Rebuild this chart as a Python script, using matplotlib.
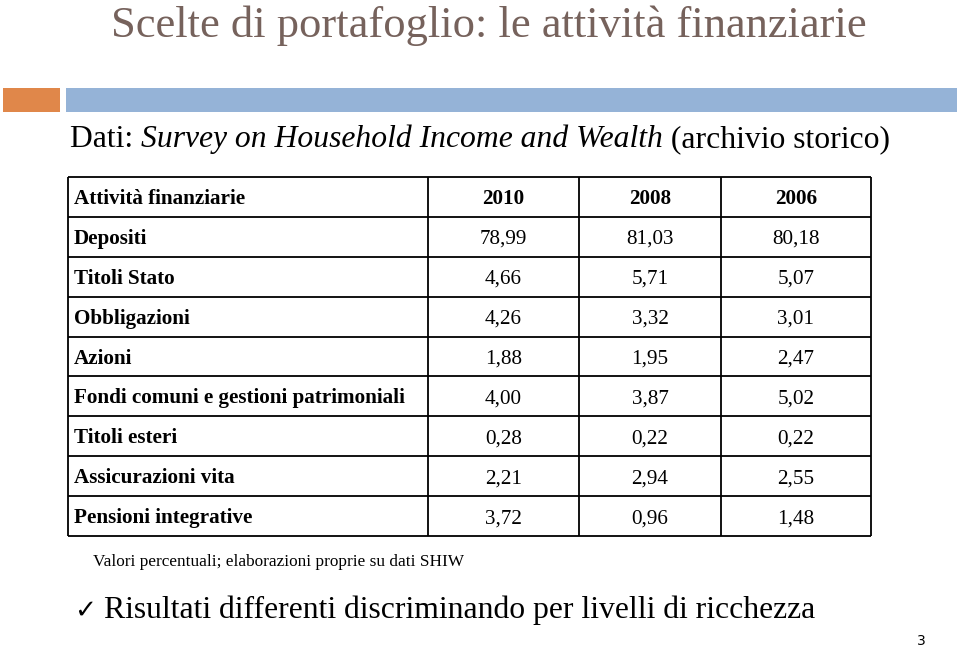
import matplotlib
matplotlib.use("Agg")
import matplotlib.pyplot as plt
from matplotlib.patches import Rectangle

title = "Scelte di portafoglio: le attività finanziarie"
header = ["Attività finanziarie", "2010", "2008", "2006"]
categories = ["Depositi", "Titoli Stato", "Obbligazioni", "Azioni",
              "Fondi comuni e gestioni patrimoniali", "Titoli esteri",
              "Assicurazioni vita", "Pensioni integrative"]
v2010 = ["78,99", "4,66", "4,26", "1,88", "4,00", "0,28", "2,21", "3,72"]
v2008 = ["81,03", "5,71", "3,32", "1,95", "3,87", "0,22", "2,94", "0,96"]
v2006 = ["80,18", "5,07", "3,01", "2,47", "5,02", "0,22", "2,55", "1,48"]
footnote = "Valori percentuali; elaborazioni proprie su dati SHIW"
bullet = "Risultati differenti discriminando per livelli di ricchezza"

plt.rcParams['font.family'] = ['Liberation Serif', 'DejaVu Sans']

fig = plt.figure(figsize=(9.6, 6.48), dpi=100)
ax = fig.add_axes([0, 0, 1, 1])
ax.set_xlim(0, 960)
ax.set_ylim(648, 0)
ax.axis('off')

# title
ax.text(489, 37, title, ha='center', va='baseline', fontsize=32, color='#76625C')
# decorative bars
ax.add_patch(Rectangle((3, 88), 57, 24, color='#E0874A', lw=0))
ax.add_patch(Rectangle((66, 88), 891, 24, color='#95B3D7', lw=0))

# subtitle
fs_sub = 22.8
t1 = ax.text(70, 147, "Dati: ", ha='left', va='baseline', fontsize=fs_sub, color='black')
fig.canvas.draw()
r = fig.canvas.get_renderer()
def right_of(t):
    bb = t.get_window_extent(renderer=r)
    inv = ax.transData.inverted()
    return inv.transform((bb.x1, bb.y0))[0]
x1 = right_of(t1)
t2 = ax.text(x1, 147, "Survey on Household Income and Wealth", ha='left', va='baseline',
             fontsize=fs_sub, style='italic', color='black')
fig.canvas.draw()
x2 = right_of(t2)
ax.text(x2, 147, " (archivio storico)", ha='left', va='baseline', fontsize=fs_sub, color='black')

# table
col_x = [68, 428, 579, 721, 871]
top, bottom = 177, 536
nrows = len(categories) + 1
rh = (bottom - top) / nrows
row_y = [top + i * rh for i in range(nrows + 1)]
ax.hlines(row_y, col_x[0], col_x[-1], color='black', lw=1.3)
ax.vlines(col_x, top, bottom, color='black', lw=1.3)

fs_tab = 15.2
def by(i):
    return top + (i + 0.5) * rh + 7

ax.text(74, by(0), header[0], ha='left', va='baseline', fontsize=fs_tab, weight='bold')
for j in range(1, 4):
    ax.text((col_x[j] + col_x[j + 1]) / 2, by(0), header[j], ha='center', va='baseline',
            fontsize=fs_tab, weight='bold')
for i, name in enumerate(categories):
    ax.text(74, by(i + 1), name, ha='left', va='baseline', fontsize=fs_tab, weight='bold')
    for j, vals in enumerate([v2010, v2008, v2006]):
        ax.text((col_x[j + 1] + col_x[j + 2]) / 2, by(i + 1), vals[i], ha='center',
                va='baseline', fontsize=fs_tab)

ax.text(93, 566, footnote, ha='left', va='baseline', fontsize=12.4)
ax.text(74, 618, "✓", ha='left', va='baseline', fontsize=19, family='DejaVu Sans',
        weight='bold')
ax.text(104, 618, bullet, ha='left', va='baseline', fontsize=22.8)
ax.text(921, 641, "3", ha='center', va='center', fontsize=10, family='DejaVu Sans')

fig.savefig("out.png", dpi=100)
